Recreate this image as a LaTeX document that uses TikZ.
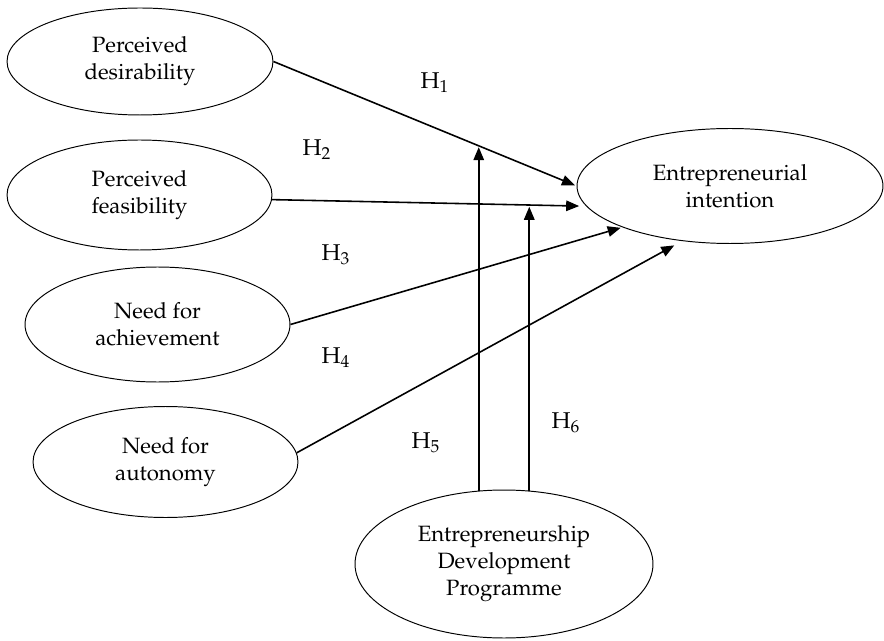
\documentclass[tikz,border=0pt]{standalone}
\usepackage[T1]{fontenc}
\usepackage{mathpazo}
\usetikzlibrary{shapes.geometric,arrows.meta}
\begin{document}
\begin{tikzpicture}[x=0.02cm,y=-0.02cm,
  el/.style={ellipse,draw,line width=0.55pt,inner sep=0pt,align=center,font=\fontsize{12.6}{15.4}\selectfont},
  arr/.style={line width=0.9pt,-{Triangle[length=0.26cm,width=0.21cm]},shorten >=1pt},
  hlab/.style={font=\fontsize{13}{15}\selectfont}]
\useasboundingbox (0,0) rectangle (884,641);
\node[el,minimum width=5.32cm,minimum height=2.14cm] (pd) at (140,61.5) {Perceived\\desirability};
\node[el,minimum width=5.30cm,minimum height=2.20cm] (pf) at (139.5,195) {Perceived\\feasibility};
\node[el,minimum width=5.30cm,minimum height=2.30cm] (na) at (157.5,324.5) {Need for\\achievement};
\node[el,minimum width=5.30cm,minimum height=2.22cm] (nau) at (165.5,462) {Need for\\autonomy};
\node[el,minimum width=6.12cm,minimum height=2.30cm] (ei) at (730,186) {Entrepreneurial\\intention};
\node[el,minimum width=5.96cm,minimum height=2.96cm] (edp) at (504,564) {Entrepreneurship\\Development\\Programme};

\draw[arr] (pd.east) -- (ei.west);
\draw[arr,shorten >=4pt] (pf.-2) -- (ei.188);
\draw[arr] (na.east) -- (ei.201);
\draw[arr,shorten >=0.18cm] (nau.4) -- (ei.229.5);

\path (pd.east) -- (ei.west) coordinate[pos=0.674] (m1);
\path (pf.-2) -- (ei.188) coordinate[pos=0.816] (m2);
\draw[arr] (edp.109.6) -- (edp.109.6 |- m1);
\draw[arr] (edp.71.1) -- (edp.71.1 |- m2);

\node[hlab] (h1) at (435,83) {H$_1$};
\node[hlab] (h2) at (317,150) {H$_2$};
\node[hlab] (h3) at (336,255) {H$_3$};
\node[hlab] (h4) at (336,358) {H$_4$};
\node[hlab] (h5) at (426,443) {H$_5$};
\node[hlab] (h6) at (566,423) {H$_6$};
\end{tikzpicture}
\end{document}
